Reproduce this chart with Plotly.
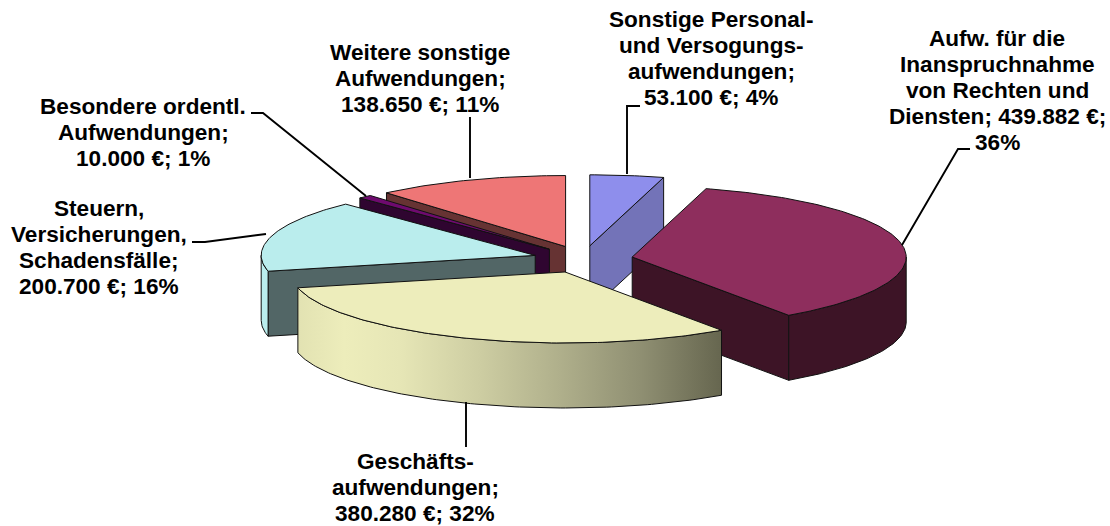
import numpy as np
import plotly.graph_objects as go

# --- data ---
categories = ["Sonstige Personal- und Versogungsaufwendungen",
              "Aufw. für die Inanspruchnahme von Rechten und Diensten",
              "Geschäftsaufwendungen",
              "Steuern, Versicherungen, Schadensfälle",
              "Besondere ordentl. Aufwendungen",
              "Weitere sonstige Aufwendungen"]
values = [53100, 439882, 380280, 200700, 10000, 138650]
label_lines = [["Sonstige Personal-", "und Versogungs-", "aufwendungen;", "53.100 €; 4%"],
               ["Aufw. für die", "Inanspruchnahme", "von Rechten und", "Diensten; 439.882 €;", "36%"],
               ["Geschäfts-", "aufwendungen;", "380.280 €; 32%"],
               ["Steuern,", "Versicherungen,", "Schadensfälle;", "200.700 €; 16%"],
               ["Besondere ordentl.", "Aufwendungen;", "10.000 €; 1%"],
               ["Weitere sonstige", "Aufwendungen;", "138.650 €; 11%"]]

# --- styles ---
top_colors = ["#8E8EEC", "#8E2E5D", "#EDEDBB", "#BAEDED", "#6E0A6E", "#EE7676"]
face_colors = ["#7373B8", "#3D1426", "#66664F", "#526666", "#2F0530", "#663333"]
wall_colors = ["#7373B8", "#3D1426", None, "#BAEDED", "#2F0530", "#663333"]
yellow_gradient = [[0.0, "#E2E2B2"], [0.11, "#EDEDBB"], [0.24, "#E6E6B6"], [0.43, "#CDCDA2"],
                   [0.62, "#AFAF8B"], [0.81, "#8F8F72"], [1.0, "#66664F"]]
label_anchor = [(711, 19), (997, 38), (415, 461.5), (98.5, 208), (143, 106), (420, 52)]
LINE_STEP = 26.2
leaders = [[(627, 174), (627, 106), (640, 106)],
           [(902, 245), (958, 149), (970, 149)],
           [(466, 402), (466, 447)],
           [(192, 242), (205, 242), (266, 234)],
           [(251, 113), (263, 113), (366, 196)],
           [(470, 178), (470, 117)]]
CX, CY = 583.0, 259.3      # pie centre on the pixel-scaled axes
RX, RY = 274.0, 71.0       # projected radii
DEPTH = 65.0               # extrusion
EXPL_X, EXPL_Y = 49.9, 13.6
EDGE = dict(color="#111111", width=1.0)
FONT = dict(family="Liberation Sans, Arial, sans-serif", size=22.6, color="#000000")

fractions = np.array(values, dtype=float) / sum(values)
ends = np.cumsum(fractions) * 2 * np.pi
starts = ends - fractions * 2 * np.pi

fig = go.Figure()


def poly(xs, ys, fill=None, name="", **kw):
    args = dict(x=list(xs), y=list(ys), mode="lines", line=EDGE, fill="toself",
                hoverinfo="skip", showlegend=False, name=name)
    if fill:
        args["fillcolor"] = fill
    args.update(kw)
    fig.add_trace(go.Scatter(**args))


def arc(ax, ay, t0, t1):
    t = np.linspace(t0, t1, max(2, int(abs(t1 - t0) * 60)))
    return ax + RX * np.sin(t), ay - RY * np.cos(t)


def extrude(xs, ys):
    return (np.concatenate([xs, xs[::-1], xs[:1]]),
            np.concatenate([ys, ys[::-1] + DEPTH, ys[:1]]))


paint_order = [0, 5, 4, 3, 1, 2]
for i in paint_order:
    t0, t1 = starts[i], ends[i]
    mid = (t0 + t1) / 2
    ax = CX + EXPL_X * np.sin(mid)
    ay = CY - EXPL_Y * np.cos(mid)
    # cut faces
    if np.sin(t0) < -1e-6:
        x0, y0 = arc(ax, ay, t0, t0)
        xs, ys = extrude(np.array([ax, x0[0]]), np.array([ay, y0[0]]))
        poly(xs, ys, face_colors[i])
    if np.sin(t1) > 1e-6:
        x1, y1 = arc(ax, ay, t1, t1)
        xs, ys = extrude(np.array([ax, x1[0]]), np.array([ay, y1[0]]))
        poly(xs, ys, face_colors[i])
    # outer wall (front half only)
    w0, w1 = max(t0, np.pi / 2), min(t1, 3 * np.pi / 2)
    if w1 > w0:
        wx, wy = arc(ax, ay, w0, w1)
        xs, ys = extrude(wx, wy)
        if wall_colors[i] is None:
            poly(xs, ys, fillgradient=dict(type="horizontal", colorscale=yellow_gradient,
                                           start=float(wx.min()), stop=float(wx.max())))
        else:
            poly(xs, ys, wall_colors[i])
    # top
    ax_, ay_ = arc(ax, ay, t0, t1)
    poly(np.concatenate([[ax], ax_, [ax]]), np.concatenate([[ay], ay_, [ay]]),
         top_colors[i], name=categories[i])

for pts in leaders:
    fig.add_trace(go.Scatter(x=[p[0] for p in pts], y=[p[1] for p in pts], mode="lines",
                             line=dict(color="#000000", width=1.9), hoverinfo="skip", showlegend=False))

for lines, (lx, ly) in zip(label_lines, label_anchor):
    for k, txt in enumerate(lines):
        fig.add_annotation(x=lx, y=ly + k * LINE_STEP, text=f"<b>{txt}</b>", showarrow=False,
                           xanchor="center", yanchor="middle", align="center", font=FONT)

fig.update_layout(width=1110, height=526, margin=dict(l=0, r=0, t=0, b=0),
                  paper_bgcolor="#FFFFFF", plot_bgcolor="#FFFFFF",
                  xaxis=dict(range=[0, 1110], visible=False, fixedrange=True),
                  yaxis=dict(range=[526, 0], visible=False, fixedrange=True))
fig.write_html("out.html", config=dict(displayModeBar=False),
               post_script="document.body.style.margin='0';document.body.style.overflow='hidden';")
